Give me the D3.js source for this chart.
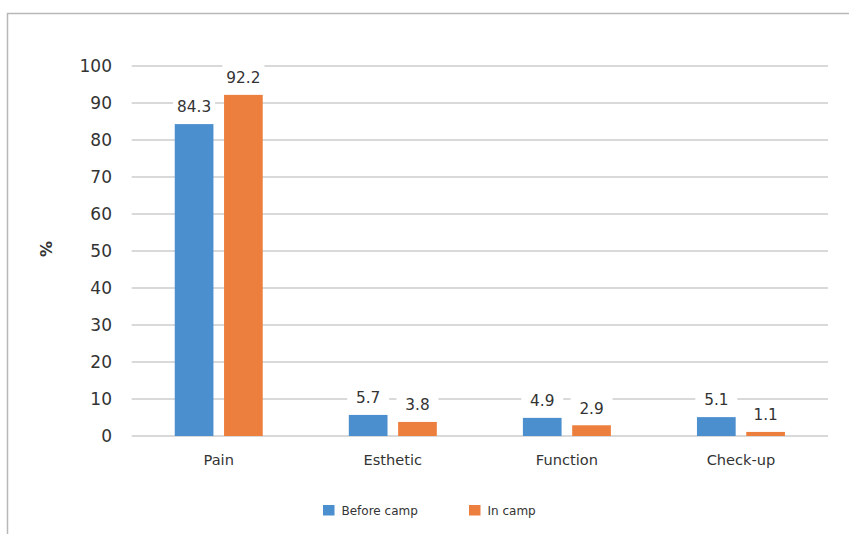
<!DOCTYPE html>
<html>
<head>
<meta charset="utf-8">
<script src="https://cdn.jsdelivr.net/npm/d3@7"></script>
<style>
  html, body { margin: 0; padding: 0; background: #fff; }
  svg { display: block; }
  text { font-family: "DejaVu Sans", sans-serif; fill: #333; }
</style>
</head>
<body>
<svg id="chart" width="849" height="534"></svg>
<script>
// Reasons for seeking dental care, before and during the camp (%)
const categories = ["Pain", "Esthetic", "Function", "Check-up"];
const seriesNames = ["Before camp", "In camp"];
const beforeCamp = [84.3, 5.7, 4.9, 5.1];
const inCamp = [92.2, 3.8, 2.9, 1.1];
const yTicks = [0, 10, 20, 30, 40, 50, 60, 70, 80, 90, 100];
const colors = ["#4b8fcf", "#ed7f3e"];

const seriesValues = [beforeCamp, inCamp];
const svg = d3.select("#chart");
const fontFamily = "'DejaVu Sans', sans-serif";

// outer frame (top and left edges)
svg.append("line").attr("x1", 7).attr("x2", 849).attr("y1", 13.5).attr("y2", 13.5)
  .attr("stroke", "#b8b8b8").attr("stroke-width", 1.5);
svg.append("line").attr("x1", 7.5).attr("x2", 7.5).attr("y1", 13).attr("y2", 534)
  .attr("stroke", "#b8b8b8").attr("stroke-width", 1.5);

const plot = { left: 131.7, right: 828, top: 66, bottom: 436 };

const y = d3.scaleLinear().domain([0, 100]).range([plot.bottom, plot.top]);
const x0 = d3.scaleBand().domain(categories).range([plot.left, plot.right]);
const barW = 38.7, barGap = 10.6;
const x1 = d3.scaleOrdinal().domain([0, 1])
  .range([-(barW + barGap / 2), barGap / 2]);

// gridlines
svg.append("g").selectAll("line").data(yTicks).join("line")
  .attr("x1", plot.left).attr("x2", plot.right)
  .attr("y1", d => y(d)).attr("y2", d => y(d))
  .attr("stroke", "#d9d9d9").attr("stroke-width", 2);

// y axis tick labels
const yAxis = d3.axisLeft(y).tickValues(yTicks).tickSize(0).tickPadding(0);
const gy = svg.append("g").attr("transform", "translate(112,0)").call(yAxis);
gy.select(".domain").remove();
gy.selectAll("text").attr("font-size", 17).attr("fill", "#333")
  .style("font-family", fontFamily);

// y axis title
svg.append("text")
  .attr("transform", "translate(52,249) rotate(-90)")
  .attr("text-anchor", "middle")
  .attr("font-size", 16).attr("font-weight", "bold")
  .text("%");

// category labels
const xAxis = d3.axisBottom(x0).tickSize(0).tickPadding(0);
const gx = svg.append("g").attr("transform", "translate(0,455)").call(xAxis);
gx.select(".domain").remove();
gx.selectAll("text").attr("font-size", 14.6).attr("fill", "#333")
  .style("font-family", fontFamily);

// bars and value labels
const rows = [];
categories.forEach((c, i) => {
  seriesValues.forEach((vals, s) => rows.push({ cat: c, s, v: vals[i] }));
});
const barX = d => x0(d.cat) + x0.bandwidth() / 2 + x1(d.s);

svg.append("g").selectAll("rect").data(rows).join("rect")
  .attr("x", barX)
  .attr("y", d => y(d.v))
  .attr("width", barW)
  .attr("height", d => y(0) - y(d.v))
  .attr("fill", d => colors[d.s]);

const labels = svg.append("g").selectAll("g").data(rows).join("g")
  .attr("transform", d => `translate(${barX(d) + barW / 2},${y(d.v) - 17})`);
labels.append("rect")
  .attr("x", -21).attr("y", -14).attr("width", 42).attr("height", 28)
  .attr("fill", "#fff");
labels.append("text")
  .attr("text-anchor", "middle").attr("dy", "0.35em")
  .attr("font-size", 15.3)
  .text(d => d.v.toFixed(1));

// legend
const legendX = [323, 469];
const legend = svg.append("g").selectAll("g").data(seriesNames).join("g")
  .attr("transform", (d, i) => `translate(${legendX[i]},505)`);
legend.append("rect").attr("width", 11.5).attr("height", 10.5)
  .attr("fill", (d, i) => colors[i]);
legend.append("text").attr("x", 18.5).attr("y", 10)
  .attr("font-size", 12).text(d => d);
</script>
</body>
</html>
